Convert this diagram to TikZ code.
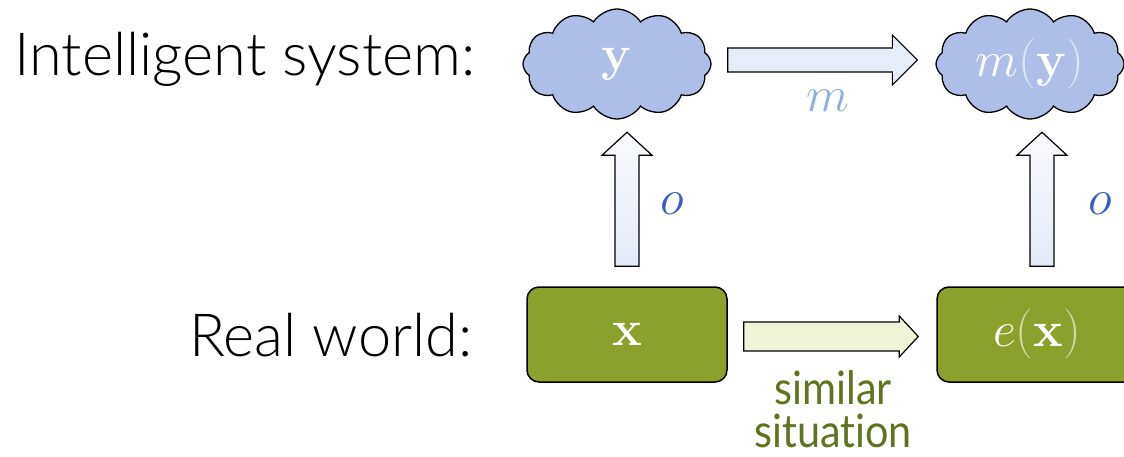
\RequirePackage{fix-cm}
\documentclass[tikz,border=0pt]{standalone}
\usepackage[no-math]{fontspec}
\setmainfont{Lato Light}
\newfontfamily\condfont[FakeStretch=0.9,Ligatures=NoCommon]{Lato}
\usetikzlibrary{shapes.symbols,calc,positioning}
\definecolor{cloudC}{RGB}{175,190,232}
\definecolor{worldC}{RGB}{138,162,44}
\definecolor{simC}{RGB}{94,116,30}
\definecolor{obsC}{RGB}{59,92,196}
\definecolor{mapC}{RGB}{141,176,227}
\definecolor{mapfill}{RGB}{230,236,248}
\definecolor{simfill}{RGB}{239,244,217}
\definecolor{obstop}{RGB}{250,251,254}
\definecolor{obsbot}{RGB}{226,233,247}
% block arrow: style, tail, tip, half shaft, half head, head length
\newcommand{\blockarrow}[6]{%
  \coordinate (hb) at ($(#3)!#6!(#2)$);
  \draw[#1] ($(#2)!#4!90:(#3)$) -- ($(hb)!#4!90:(#3)$) -- ($(hb)!#5!90:(#3)$) -- (#3)
    -- ($(hb)!#5!-90:(#3)$) -- ($(hb)!#4!-90:(#3)$) -- ($(#2)!#4!-90:(#3)$) -- cycle;
}

\begin{document}
\begin{tikzpicture}[x=1pt,y=-1pt,
  rowlabel/.style={anchor=base east,font=\fontsize{59.5}{62}\selectfont},
  thought/.style={cloud,cloud puffs=12,cloud puff arc=115,cloud ignores aspect,
    draw,line width=1.3pt,fill=cloudC,minimum width=188pt,minimum height=110pt,
    inner sep=0pt,text=white,font=\fontsize{50}{54}\selectfont},
  world/.style={draw,line width=1.5pt,rounded corners=12pt,fill=worldC,
    minimum width=200pt,minimum height=95pt,text=white,font=\fontsize{50}{54}\selectfont},
  maparrow/.style={draw,line width=1.2pt,fill=mapfill},
  obsarrow/.style={draw,line width=1.2pt,top color=obstop,bottom color=obsbot},
  simarrow/.style={draw,line width=1.2pt,fill=simfill},
  mathlabel/.style={font=\fontsize{50}{54}\selectfont}]
  \useasboundingbox (0,0) rectangle (1124,457);
  \clip (0,0) rectangle (1124,457);

  % row labels
  \node[rowlabel] (top) at (479,76) {Intelligent system:};
  \node[rowlabel] (bot) at (476,356) {Real world:};

  % states
  \node[thought] (ycl) at (617,64) {$\mathbf{y}$};
  \node[thought] (mcl) at (1030,64)
    {$m{\color{white!60!cloudC}(}\mathbf{y}{\color{white!60!cloudC})}$};
  \node[world] (xbox) at (627,334.5) {$\mathbf{x}$};
  \node[world] (exbox) at (1037,334.5)
    {$e{\color{white!60!worldC}(}\mathbf{x}{\color{white!60!worldC})}$};

  % connectors
  \coordinate (mtail) at ($(ycl.east)+(16,-4)$);
  \coordinate (mtip) at ($(mcl.west)+(-18,-4)$);
  \blockarrow{maparrow}{mtail}{mtip}{12pt}{25pt}{25pt}
  \coordinate (otail) at ($(xbox.north)+(0,-20)$);
  \coordinate (otip) at ($(otail)+(0,-134)$);
  \blockarrow{obsarrow}{otail}{otip}{12pt}{25pt}{23pt}
  \coordinate (o2tail) at ($(exbox.north)+(5,-20)$);
  \coordinate (o2tip) at ($(o2tail)+(0,-134)$);
  \blockarrow{obsarrow}{o2tail}{o2tip}{12pt}{25pt}{23pt}
  \coordinate (stail) at ($(xbox.east)+(16,2)$);
  \coordinate (stip) at ($(exbox.west)+(-18,2)$);
  \blockarrow{simarrow}{stail}{stip}{14.5pt}{20.5pt}{19pt}

  % labels
  \node[mathlabel,text=mapC] (mlab) at (828,101) {$m$};
  \node[mathlabel,text=obsC] (olab) at (672,204) {$o$};
  \node[mathlabel,text=obsC] (o2lab) at (1100,204) {$o$};
  \node[align=center,text=simC,font=\condfont\fontsize{46}{43}\selectfont]
    (sim) at (833,409) {similar\\situation};
\end{tikzpicture}
\end{document}
